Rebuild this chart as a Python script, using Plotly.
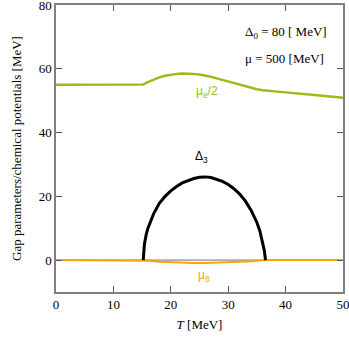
import plotly.graph_objects as go

# Delta_3 gap
t_d3 = [15.2, 15.25, 15.4, 15.7, 16, 16.5, 17, 18, 19, 20, 21, 22, 23, 24, 25, 26, 27, 28, 29, 30, 31, 32, 33, 34, 35, 35.5, 36, 36.3, 36.5]
d3 = [0, 2.5, 5.0, 7.9, 9.9, 12.2, 14.5, 17.8, 20.0, 21.7, 23.1, 24.2, 25.0, 25.6, 26.0, 26.1, 25.9, 25.4, 24.7, 23.7, 22.4, 20.7, 18.5, 15.6, 11.8, 9.2, 5.5, 3.0, 0]

# mu_e / 2
t_mue = [0, 15.2, 16, 17, 18, 19, 20, 21, 22, 23, 24, 25, 26, 27, 28, 29, 30, 31, 32, 33, 34, 35, 36, 37, 40, 45, 50]
mue = [55.0, 55.1, 55.8, 56.6, 57.3, 57.8, 58.2, 58.4, 58.5, 58.5, 58.4, 58.2, 57.9, 57.5, 57.0, 56.5, 56.0, 55.5, 55.0, 54.5, 54.0, 53.6, 53.3, 53.1, 52.6, 51.8, 50.9]

# mu_8
t_mu8 = [0, 15.2, 16, 18, 20, 22, 24, 26, 28, 30, 32, 34, 36, 36.5, 50]
mu8 = [0, 0, -0.2, -0.5, -0.7, -0.85, -0.9, -0.9, -0.85, -0.75, -0.55, -0.35, -0.1, 0, 0]

# dotted zero segment
t_dot = [15.2, 36.5]
v_dot = [0, 0]

fig = go.Figure()
fig.add_trace(go.Scatter(x=[0, 50], y=[0, 0], mode="lines", line=dict(color="#888888", width=1.2)))
fig.add_trace(go.Scatter(x=t_dot, y=v_dot, mode="lines", line=dict(color="#bbbbbb", width=1, dash="dot")))
fig.add_trace(go.Scatter(x=t_mu8, y=mu8, mode="lines", line=dict(color="#f5a800", width=2)))
fig.add_trace(go.Scatter(x=t_mue, y=mue, mode="lines", line=dict(color="#9cbb1a", width=2.5)))
fig.add_trace(go.Scatter(x=t_d3, y=d3, mode="lines", line=dict(color="black", width=3)))

serif = "Liberation Serif, Times New Roman, serif"
sans = "Liberation Sans, Arial, sans-serif"

ann = [
    dict(x=32.6, y=71.5, text="Δ<sub>0</sub> = 80 [ MeV]", xanchor="left", font=dict(family=serif, size=13, color="black")),
    dict(x=32.6, y=63.3, text="μ = 500 [MeV]", xanchor="left", font=dict(family=serif, size=13, color="black")),
    dict(x=26.3, y=52.8, text="μ<sub>e</sub>/2", xanchor="center", font=dict(family=sans, size=12, color="#9cbb1a")),
    dict(x=25.4, y=32.4, text="Δ<sub>3</sub>", xanchor="center", font=dict(family=sans, size=12, color="black")),
    dict(x=25.7, y=-4.9, text="μ<sub>8</sub>", xanchor="center", font=dict(family=sans, size=12, color="#f5a800")),
]
for a in ann:
    a.update(xref="x", yref="y", showarrow=False, yanchor="middle")

axis_common = dict(
    showline=True, linecolor="#808080", linewidth=1.5, mirror="ticks",
    ticks="inside", ticklen=6, tickcolor="#555555", tickwidth=1,
    showgrid=False, zeroline=False, automargin=False,
    ticklabeloverflow="allow",
    tickfont=dict(family=serif, size=13, color="black"),
)

fig.update_layout(
    width=349, height=338,
    margin=dict(l=56, r=6, t=5, b=46),
    paper_bgcolor="white", plot_bgcolor="white",
    showlegend=False,
    annotations=ann,
    xaxis=dict(range=[0, 50], tickvals=[0, 10, 20, 30, 40, 50],
               title=dict(text="<i>T</i> [MeV]", font=dict(family=serif, size=13, color="black"), standoff=9),
               **axis_common),
    yaxis=dict(range=[-10, 80], tickvals=[0, 20, 40, 60, 80],
               title=dict(text="Gap parameters/chemical potentials [MeV]", font=dict(family=serif, size=13, color="black"), standoff=14),
               **axis_common),
)

fig.write_html("out.html", config={"displayModeBar": False},
               post_script="document.body.style.margin='0';document.body.style.overflow='hidden';")
